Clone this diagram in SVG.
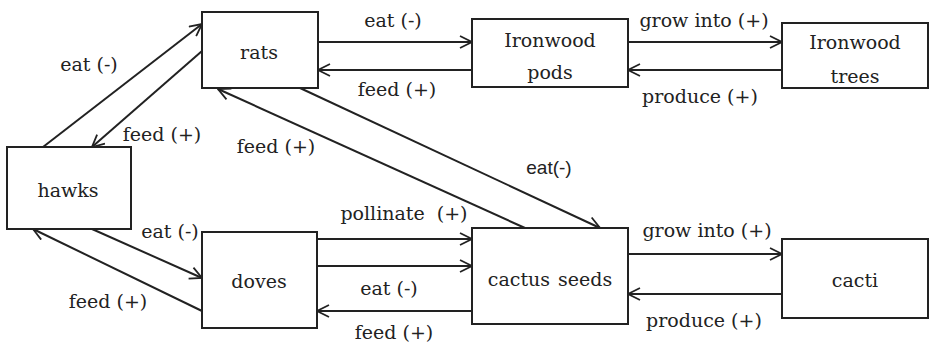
<svg xmlns="http://www.w3.org/2000/svg" width="930" height="350" viewBox="0 0 930 350">
<defs>
<marker id="ah" viewBox="0 0 14 14" refX="13" refY="7" markerWidth="14" markerHeight="14" orient="auto" markerUnits="userSpaceOnUse">
<path d="M1,1 L13,7 L1,13" fill="none" stroke="#222" stroke-width="1.8"/>
</marker>
</defs>
<style>
.box{fill:#fff;stroke:#222;stroke-width:2}
.c{stroke:#222;stroke-width:2;fill:none;marker-end:url(#ah)}
.pre{white-space:pre}
</style>
<rect width="930" height="350" fill="#fff"/>
<g id="connectors">
<line class="c" x1="318" y1="42" x2="472" y2="42"/>
<line class="c" x1="472" y1="70" x2="318" y2="70"/>
<line class="c" x1="628" y1="42" x2="782" y2="42"/>
<line class="c" x1="782" y1="70" x2="628" y2="70"/>
<line class="c" x1="43" y1="147" x2="202" y2="24"/>
<line class="c" x1="202" y1="51" x2="92" y2="147"/>
<line class="c" x1="525" y1="228" x2="218" y2="89"/>
<line class="c" x1="300" y1="88" x2="600" y2="228"/>
<line class="c" x1="92" y1="229" x2="202" y2="278"/>
<line class="c" x1="202" y1="311" x2="33" y2="229"/>
<line class="c" x1="317" y1="239" x2="472" y2="239"/>
<line class="c" x1="317" y1="266" x2="472" y2="266"/>
<line class="c" x1="472" y1="311" x2="317" y2="311"/>
<line class="c" x1="628" y1="254" x2="782" y2="254"/>
<line class="c" x1="782" y1="294" x2="628" y2="294"/>
<g font-family="'DejaVu Serif', serif" font-size="19" fill="#222" text-anchor="middle">
<text x="393" y="27">eat (-)</text>
<text x="397" y="96">feed (+)</text>
<text x="704" y="27">grow into (+)</text>
<text x="700" y="103">produce (+)</text>
<text x="89" y="71">eat (-)</text>
<text x="162" y="141">feed (+)</text>
<text x="276" y="153">feed (+)</text>
<text x="549" y="174" font-family="'Liberation Sans', Arial, sans-serif" font-size="19">eat(-)</text>
<text x="170" y="238">eat (-)</text>
<text x="108" y="308">feed (+)</text>
<text class="pre" x="404" y="220">pollinate  (+)</text>
<text x="389" y="295">eat (-)</text>
<text x="394" y="339">feed (+)</text>
<text x="707" y="237">grow into (+)</text>
<text x="704" y="327">produce (+)</text>
</g>
</g>
<g font-family="'DejaVu Serif', serif" font-size="19" fill="#222" text-anchor="middle">
<g id="rats"><rect class="box" x="202" y="12" width="116" height="76"/><text x="259" y="59">rats</text></g>
<g id="hawks"><rect class="box" x="7" y="147" width="124" height="82"/><text x="68" y="197">hawks</text></g>
<g id="doves"><rect class="box" x="202" y="232" width="115" height="96"/><text x="259" y="288">doves</text></g>
<g id="ironwood-pods"><rect class="box" x="472" y="19" width="156" height="68"/><text x="550" y="47">Ironwood</text><text x="550" y="79">pods</text></g>
<g id="ironwood-trees"><rect class="box" x="782" y="23" width="146" height="65"/><text x="855" y="49">Ironwood</text><text x="855" y="83">trees</text></g>
<g id="cactus-seeds"><rect class="box" x="472" y="228" width="156" height="96"/><text x="550" y="286">cactus <tspan dx="2">seeds</tspan></text></g>
<g id="cacti"><rect class="box" x="782" y="239" width="146" height="79"/><text x="855" y="287">cacti</text></g>
</g>
</svg>
